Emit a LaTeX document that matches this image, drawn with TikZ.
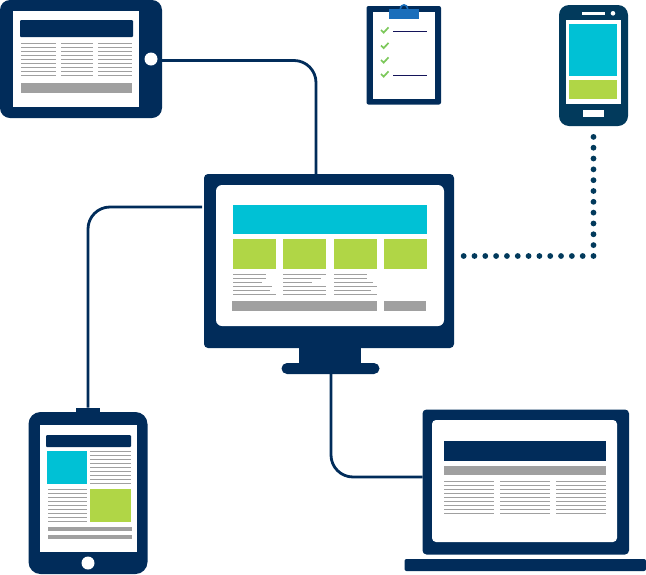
\documentclass[tikz,border=0pt]{standalone}
\definecolor{navy}{HTML}{012C5A}
\definecolor{phonenavy}{HTML}{023A5C}
\definecolor{cyanb}{HTML}{00C1D5}
\definecolor{greenb}{HTML}{B0D646}
\definecolor{grayb}{HTML}{A0A0A0}
\definecolor{clipb}{HTML}{1A6EBB}
\definecolor{checkb}{HTML}{7CC85A}
\definecolor{inkb}{HTML}{14145A}
\newcommand{\fillrect}[5]{\fill[#1] (#2,#3) rectangle (#4,#5);}
\newcommand{\rlines}[6]{\foreach \i in {1,...,#5}{\draw[textline] (#1,{#3+(\i-1)*#4}) -- (#2,{#3+(\i-1)*#4});}}
\tikzset{
  device/.style={fill=navy,draw=none,inner sep=0pt,outer sep=0pt,rectangle},
  link/.style={draw=navy,line width=2.8pt},
  dots/.style={draw=phonenavy,line width=5.8pt,line cap=round,dash pattern=on 0pt off 10.82pt},
  textline/.style={draw=grayb,line width=1pt},
  check/.style={draw=checkb,line width=1.7pt},
}
\begin{document}
\begin{tikzpicture}[x=1pt,y=-1pt]
\useasboundingbox (0,0) rectangle (646,574);

% top tablet
\node[device,rounded corners=10pt,minimum width=162pt,minimum height=118pt] (tabA) at (81,59) {};
\fill[white] (13,11) rectangle (139,107);
\fill[navy,rounded corners=1pt] (20,20) rectangle (133,37);
\foreach \a/\b in {21/56,61/93,98/132}{\rlines{\a}{\b}{43.5}{4}{9}{}}
\fillrect{grayb}{21}{83}{132}{93}
\fill[white] (151,59) circle (6.5);

% clipboard
\node[device,rounded corners=2pt,minimum width=74.5pt,minimum height=98.5pt] (clip) at (403.75,55.25) {};
\fill[white] (373,12) rectangle (435,99);
\draw[clipb,line width=1.6pt] (404,8.5) circle (3.6);
\fillrect{clipb}{389}{9}{419}{18.5}
\foreach \y in {30,45.5,60,74}{\draw[check] (381,{\y}) -- (383.7,{\y+2.6}) -- (388.5,{\y-2.6});}
\draw[inkb,line width=1pt] (393,31.5) -- (427,31.5);
\draw[inkb,line width=1pt] (393,75.5) -- (427,75.5);

% phone
\node[rectangle,fill=phonenavy,inner sep=0pt,outer sep=0pt,rounded corners=10pt,minimum width=69pt,minimum height=121pt] (phone) at (593.5,65.5) {};
\fill[white] (565.7,20) rectangle (621,103.5);
\fillrect{cyanb}{569}{24}{617}{76}
\fillrect{greenb}{569}{80}{617}{99}
\fillrect{white}{581.5}{12}{605}{14.5}
\fill[white] (613,13.3) circle (2.3);
\fillrect{white}{582.5}{110}{604}{117}

% monitor
\node[device,rounded corners=4pt,minimum width=250pt,minimum height=174pt] (mon) at (329,261) {};
\fill[white,rounded corners=6pt] (216,185) rectangle (444,326);
\fillrect{cyanb}{233}{205}{427}{234}
\foreach \a/\b in {233/276,283/326,334/377,384/427}{\fillrect{greenb}{\a}{239}{\b}{269}}
\foreach \n/\e in {0/266,1/266,2/262,3/272,4/270,5/276}{\draw[textline] (233,{274+4*\n}) -- (\e,{274+4*\n});}
\foreach \n/\e in {0/326,1/321,2/312,3/326,4/326,5/326}{\draw[textline] (283,{274+4*\n}) -- (\e,{274+4*\n});}
\foreach \n/\e in {0/367,1/367,2/373,3/377,4/371,5/377}{\draw[textline] (334,{274+4*\n}) -- (\e,{274+4*\n});}
\fillrect{grayb}{232}{301}{377}{311}
\fillrect{grayb}{384}{301}{426}{311}
\fillrect{navy}{299}{347}{361}{364}
\node[device,rounded corners=5.5pt,minimum width=98pt,minimum height=11pt] (monbase) at (330.5,368.5) {};

% bottom tablet
\node[device,rounded corners=12pt,minimum width=119pt,minimum height=162pt] (tabB) at (88,493) {};
\node[device,minimum width=24pt,minimum height=5pt] (tabBtop) at (88,410) {};
\fill[white] (40,425) rectangle (136.5,551.5);
\fill[navy,rounded corners=1pt] (46,435) rectangle (131,447);
\fillrect{cyanb}{47}{451}{87}{484}
\rlines{90}{131}{451.5}{4}{9}{}
\rlines{48}{87}{489.5}{4}{9}{}
\fillrect{greenb}{90}{489}{131}{522}
\fillrect{grayb}{48}{527}{132}{531}
\fillrect{grayb}{48}{535}{132}{539}
\fill[white] (88,563) circle (6.5);

% laptop
\node[device,rounded corners=4pt,minimum width=206.5pt,minimum height=145pt] (lap) at (525.75,482) {};
\fill[white,rounded corners=4pt] (432,420) rectangle (617,542);
\fillrect{navy}{444}{441}{606}{461}
\fillrect{grayb}{444}{466}{606}{475}
\foreach \a/\b in {444/494,500/550,556/606}{\rlines{\a}{\b}{481.3}{4}{9}{}}
\node[device,rounded corners=2pt,minimum width=241.5pt,minimum height=12pt] (lapbase) at (525.25,565) {};

% connectors
\draw[link,rounded corners=22pt] ([yshift=-1.5pt]tabA.east) -| ([xshift=-13pt]mon.north);
\draw[link,rounded corners=22pt] ([xshift=-2pt,yshift=54pt]mon.west) -| (tabBtop.north);
\draw[link,rounded corners=22pt] ([xshift=0.5pt]monbase.south) |- ([yshift=5pt]lap.west);
% dotted link: the corner lies above the monitor's east anchor, in line with the phone
\coordinate (dotcorner) at ([yshift=5pt]phone.south |- mon.east);
\coordinate (dottop) at ([yshift=-10.9pt]phone.south);
\coordinate (dotend) at ([xshift=9.3pt,yshift=5pt]mon.east);
\draw[dots] (dottop) -- ([yshift=3pt]dotcorner);
\draw[dots] (dotcorner) -- (dotend);
\end{tikzpicture}
\end{document}
